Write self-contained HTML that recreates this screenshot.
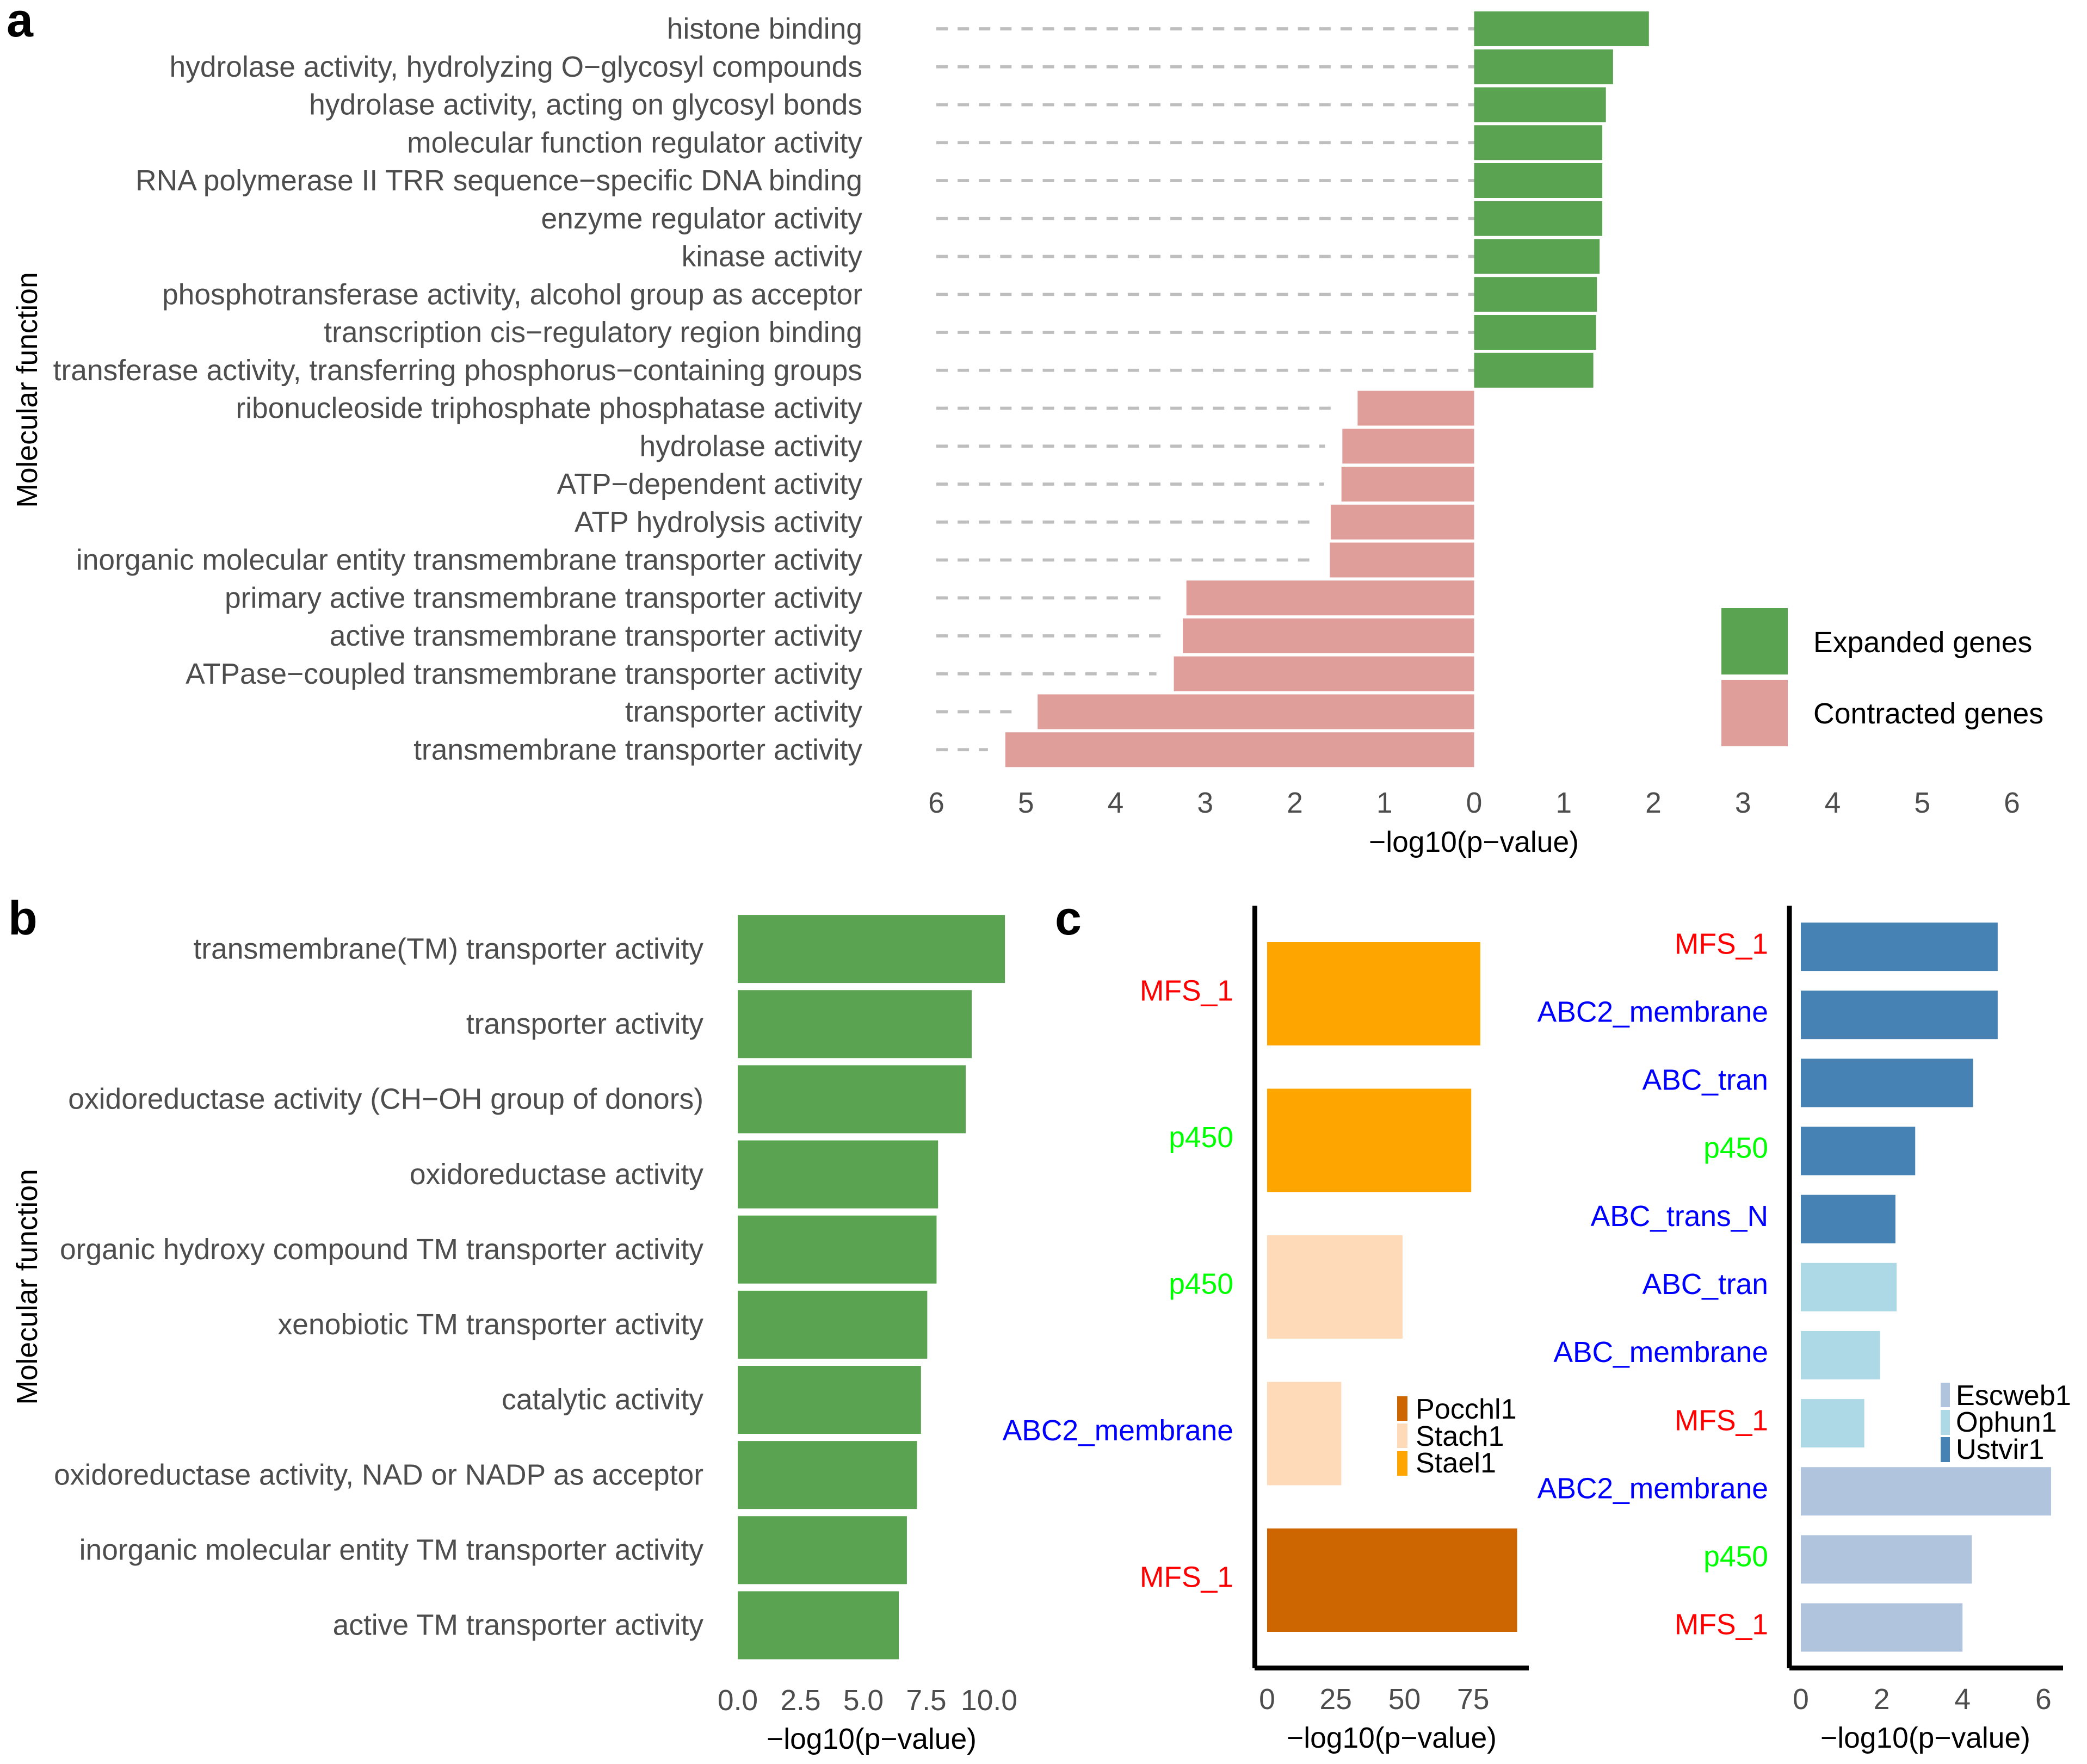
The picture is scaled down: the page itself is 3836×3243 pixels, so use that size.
<!DOCTYPE html>
<html lang="en">
<head>
<meta charset="utf-8">
<title>Molecular function enrichment charts</title>
<style>
html,body{margin:0;padding:0;background:#fff;}
svg{display:block;font-family:"Liberation Sans",Arial,sans-serif;}
</style>
</head>
<body>
<svg id="fig" xmlns="http://www.w3.org/2000/svg" width="3836" height="3243" viewBox="0 0 3836 3243">
  <rect x="0" y="0" width="3836" height="3243" fill="#ffffff"/>
  <text x="12" y="67" font-size="88" font-weight="700" fill="#000">a</text>
  <text x="15" y="1718" font-size="88" font-weight="700" fill="#000">b</text>
  <text x="1939" y="1718" font-size="88" font-weight="700" fill="#000">c</text>
  <text transform="translate(68,717) rotate(-90)" text-anchor="middle" font-size="53.4" fill="#000">Molecular function</text>
  <text transform="translate(68,2366) rotate(-90)" text-anchor="middle" font-size="53.4" fill="#000">Molecular function</text>
  <text x="2709" y="1566" text-anchor="middle" font-size="53.4" fill="#000">−log10(p−value)</text>
  <text x="1602" y="3215" text-anchor="middle" font-size="53.4" fill="#000">−log10(p−value)</text>
  <text x="2558" y="3213" text-anchor="middle" font-size="53.4" fill="#000">−log10(p−value)</text>
  <text x="3539" y="3213" text-anchor="middle" font-size="53.4" fill="#000">−log10(p−value)</text>
  <rect x="3164" y="1118" width="122" height="122" fill="#5AA351"/>
  <rect x="3164" y="1250" width="122" height="122" fill="#E09E9B"/>
  <text x="3333" y="1199" font-size="53.6" fill="#000">Expanded genes</text>
  <text x="3333" y="1330" font-size="53.6" fill="#000">Contracted genes</text>
  <line x1="2306.5" y1="1665" x2="2306.5" y2="3067" stroke="#000" stroke-width="9"/>
  <line x1="2306" y1="3066.5" x2="2810" y2="3066.5" stroke="#000" stroke-width="9"/>
  <line x1="3289" y1="1665" x2="3289" y2="3067" stroke="#000" stroke-width="9"/>
  <line x1="3289" y1="3066.5" x2="3792" y2="3066.5" stroke="#000" stroke-width="9"/>
  <rect x="2568" y="2567" width="19" height="45" fill="#CD6600"/>
  <rect x="2568" y="2617" width="19" height="45" fill="#FFDAB9"/>
  <rect x="2568" y="2668" width="19" height="45" fill="#FFA500"/>
  <text x="2602" y="2608" font-size="52.2" fill="#000">Pocchl1</text>
  <text x="2602" y="2658" font-size="52.2" fill="#000">Stach1</text>
  <text x="2602" y="2707" font-size="52.2" fill="#000">Stael1</text>
  <rect x="3567" y="2542" width="17" height="45" fill="#B0C4DE"/>
  <rect x="3567" y="2592" width="17" height="46" fill="#ADD8E6"/>
  <rect x="3567" y="2642" width="17" height="46" fill="#4682B4"/>
  <text x="3595" y="2583" font-size="52.2" fill="#000">Escweb1</text>
  <text x="3595" y="2632" font-size="52.2" fill="#000">Ophun1</text>
  <text x="3595" y="2682" font-size="52.2" fill="#000">Ustvir1</text>
</svg>
<script>
const aCategories = [
  "histone binding",
  "hydrolase activity, hydrolyzing O−glycosyl compounds",
  "hydrolase activity, acting on glycosyl bonds",
  "molecular function regulator activity",
  "RNA polymerase II TRR sequence−specific DNA binding",
  "enzyme regulator activity",
  "kinase activity",
  "phosphotransferase activity, alcohol group as acceptor",
  "transcription cis−regulatory region binding",
  "transferase activity, transferring phosphorus−containing groups",
  "ribonucleoside triphosphate phosphatase activity",
  "hydrolase activity",
  "ATP−dependent activity",
  "ATP hydrolysis activity",
  "inorganic molecular entity transmembrane transporter activity",
  "primary active transmembrane transporter activity",
  "active transmembrane transporter activity",
  "ATPase−coupled transmembrane transporter activity",
  "transporter activity",
  "transmembrane transporter activity"
];
const aValues = [1.95, 1.55, 1.47, 1.43, 1.43, 1.43, 1.40, 1.37, 1.36, 1.33,
  -1.30, -1.47, -1.48, -1.60, -1.61, -3.21, -3.25, -3.35, -4.87, -5.23];
const aTicks = [-6, -5, -4, -3, -2, -1, 0, 1, 2, 3, 4, 5, 6];

const bCategories = [
  "transmembrane(TM) transporter activity",
  "transporter activity",
  "oxidoreductase activity (CH−OH group of donors)",
  "oxidoreductase activity",
  "organic hydroxy compound TM transporter activity",
  "xenobiotic TM transporter activity",
  "catalytic activity",
  "oxidoreductase activity, NAD or NADP as acceptor",
  "inorganic molecular entity TM transporter activity",
  "active TM transporter activity"
];
const bValues = [10.63, 9.31, 9.07, 7.97, 7.91, 7.54, 7.29, 7.13, 6.73, 6.41];
const bTicks = [0, 2.5, 5, 7.5, 10];
const bTickLabels = ["0.0", "2.5", "5.0", "7.5", "10.0"];

const cLeftCategories = ["MFS_1", "p450", "p450", "ABC2_membrane", "MFS_1"];
const cLeftValues = [77.6, 74.3, 49.3, 27, 91];
const cLeftSpecies = ["Stael1", "Stael1", "Stach1", "Stach1", "Pocchl1"];
const cLeftTicks = [0, 25, 50, 75];

const cRightCategories = ["MFS_1", "ABC2_membrane", "ABC_tran", "p450", "ABC_trans_N",
  "ABC_tran", "ABC_membrane", "MFS_1", "ABC2_membrane", "p450", "MFS_1"];
const cRightValues = [4.87, 4.87, 4.26, 2.83, 2.34, 2.37, 1.96, 1.57, 6.19, 4.23, 4.0];
const cRightSpecies = ["Ustvir1", "Ustvir1", "Ustvir1", "Ustvir1", "Ustvir1",
  "Ophun1", "Ophun1", "Ophun1", "Escweb1", "Escweb1", "Escweb1"];
const cRightTicks = [0, 2, 4, 6];

const speciesColors = {Stael1: "#FFA500", Stach1: "#FFDAB9", Pocchl1: "#CD6600",
  Ustvir1: "#4682B4", Ophun1: "#ADD8E6", Escweb1: "#B0C4DE"};

const NS = "http://www.w3.org/2000/svg";
const fig = document.getElementById("fig");
const FS = 53.4;
const GREY = "#4d4d4d";

function rect(x0, x1, y, h, fill) {
  const el = document.createElementNS(NS, "rect");
  el.setAttribute("x", Math.min(x0, x1));
  el.setAttribute("width", Math.abs(x1 - x0));
  el.setAttribute("y", y);
  el.setAttribute("height", h);
  el.setAttribute("fill", fill);
  fig.appendChild(el);
  return el;
}
function label(str, x, yCenter, anchor, fill, size) {
  const el = document.createElementNS(NS, "text");
  el.textContent = str;
  el.setAttribute("x", x);
  el.setAttribute("y", yCenter + 0.36 * size);
  el.setAttribute("text-anchor", anchor);
  el.setAttribute("fill", fill);
  el.setAttribute("font-size", size);
  fig.appendChild(el);
  return el;
}
function familyColor(name) {
  if (name.indexOf("MFS") === 0) return "#FF0000";
  if (name.indexOf("p450") === 0) return "#00FF00";
  return "#0000FF";
}

/* Panel a: diverging bars */
const xA = v => 2709.5 + v * 164.75;
const yA = i => 53 + i * 69.75;
aCategories.forEach((name, i) => {
  const v = aValues[i];
  const end = v < 0 ? xA(v) - 32 : xA(0);
  const dash = document.createElementNS(NS, "line");
  dash.setAttribute("x1", xA(-6));
  dash.setAttribute("x2", end);
  dash.setAttribute("y1", yA(i));
  dash.setAttribute("y2", yA(i));
  dash.setAttribute("stroke", "#BEBEBE");
  dash.setAttribute("stroke-width", 5.8);
  dash.setAttribute("stroke-dasharray", "21 18.1");
  
  
  fig.appendChild(dash);
  const bar = rect(xA(0), xA(v), yA(i) - 32, 64, v >= 0 ? "#5AA351" : "#E09E9B");
  
  
  const t = label(name, 1585, yA(i) - 1, "end", GREY, FS);
  
  
});
aTicks.forEach(v => {
  const t = label(String(Math.abs(v)), xA(v), 1475, "middle", GREY, FS);
  
  
});

/* Panel b */
const xB = v => 1356 + v * 46.2;
const yB = i => 1744.6 + i * 138.15;
bCategories.forEach((name, i) => {
  const bar = rect(xB(0), xB(bValues[i]), yB(i) - 62.5, 125, "#5AA351");
  
  
  const t = label(name, 1293, yB(i) - 1.5, "end", GREY, FS);
  
  
});
bTicks.forEach((v, i) => {
  const t = label(bTickLabels[i], xB(v), 3125, "middle", GREY, FS);
  
  
});

/* Panel c, left */
const xCL = v => 2329 + v * 5.05;
const yCL = i => 1827 + i * 269.5;
cLeftCategories.forEach((name, i) => {
  const bar = rect(xCL(0), xCL(cLeftValues[i]), yCL(i) - 95, 190, speciesColors[cLeftSpecies[i]]);
  
  
  const t = label(name, 2267, yCL(i) - 6.5, "end", familyColor(name), FS);
  
  
});
cLeftTicks.forEach(v => {
  const t = label(String(v), xCL(v), 3123, "middle", GREY, FS);
  
  
});

/* Panel c, right */
const xCR = v => 3310 + v * 74.3;
const yCR = i => 1740.6 + i * 125.14;
cRightCategories.forEach((name, i) => {
  const bar = rect(xCR(0), xCR(cRightValues[i]), yCR(i) - 44.5, 89, speciesColors[cRightSpecies[i]]);
  
  
  const t = label(name, 3250, yCR(i) - 6.5, "end", familyColor(name), FS);
  
  
});
cRightTicks.forEach(v => {
  const t = label(String(v), xCR(v), 3123, "middle", GREY, FS);
  
  
});
</script>
</body>
</html>
